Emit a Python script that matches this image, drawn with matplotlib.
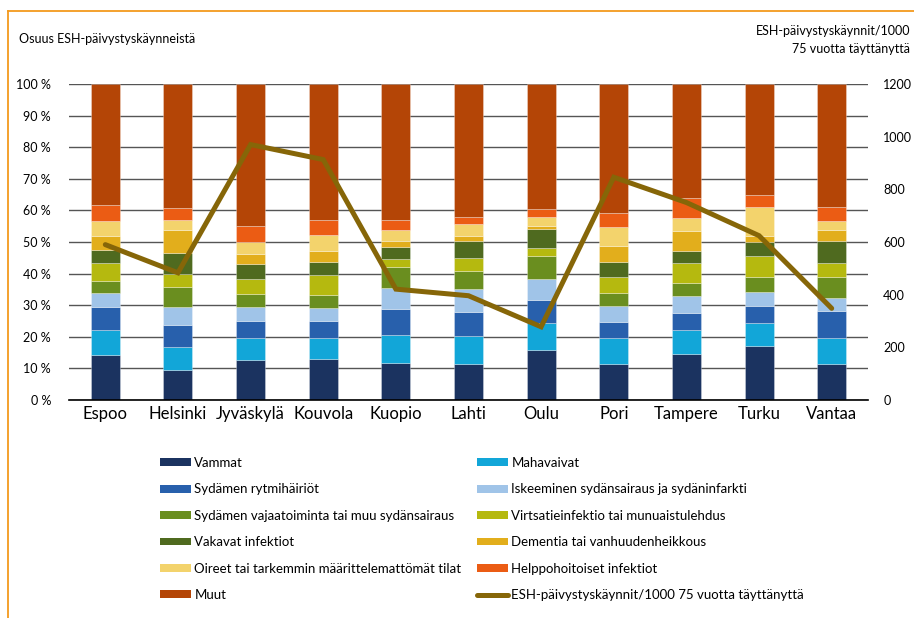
import matplotlib
matplotlib.use("Agg")
import matplotlib.pyplot as plt
import numpy as np
from matplotlib.patches import Patch
from matplotlib.lines import Line2D

plt.rcParams['font.family'] = ['Lato', 'DejaVu Sans']

cities = ["Espoo", "Helsinki", "Jyväskylä", "Kouvola", "Kuopio", "Lahti",
          "Oulu", "Pori", "Tampere", "Turku", "Vantaa"]

categories = ["Vammat", "Mahavaivat", "Sydämen rytmihäiriöt",
              "Iskeeminen sydänsairaus ja sydäninfarkti",
              "Sydämen vajaatoiminta tai muu sydänsairaus",
              "Virtsatieinfektio tai munuaistulehdus",
              "Vakavat infektiot", "Dementia tai vanhuudenheikkous",
              "Oireet tai tarkemmin määrittelemattömät tilat",
              "Helppohoitoiset infektiot", "Muut"]

# cumulative tops (%) of each segment
vammat    = [14.3,  9.4, 12.6, 13.1, 11.8, 11.5, 15.7, 11.5, 14.6, 17.2, 11.3]
mahavaiv  = [22.0, 16.9, 19.7, 19.6, 20.5, 20.3, 24.4, 19.7, 22.0, 24.4, 19.6]
rytmi     = [29.3, 23.8, 24.9, 24.9, 28.9, 27.8, 31.7, 24.8, 27.6, 29.6, 28.1]
iskeem    = [33.9, 29.4, 29.4, 29.2, 35.3, 35.0, 38.3, 29.8, 33.0, 34.3, 32.2]
vajaa     = [37.8, 35.9, 33.6, 33.1, 42.2, 40.9, 45.7, 34.0, 37.1, 39.0, 38.8]
virtsa    = [43.3, 40.0, 38.3, 39.7, 44.6, 44.9, 48.1, 39.0, 43.4, 45.5, 43.3]
vakavat   = [47.4, 46.6, 43.1, 43.8, 48.3, 50.3, 54.2, 43.7, 47.0, 49.9, 50.3]
dementia  = [52.0, 53.8, 46.3, 47.0, 50.3, 51.9, 55.2, 48.8, 53.6, 52.0, 53.8]
oireet    = [56.5, 57.0, 50.1, 52.1, 53.9, 55.6, 58.0, 54.7, 57.7, 61.0, 56.5]
helppo    = [61.7, 60.8, 55.2, 57.1, 57.1, 57.9, 60.4, 59.3, 63.9, 65.0, 61.1]
muut      = [100.0] * 11

rate = [590, 483, 970, 913, 421, 396, 278, 846, 750, 624, 348]

colors = ["#1B3360", "#12A6D8", "#2860AC", "#A0C4E8", "#6A8E1F", "#B5B90F",
          "#4F6A1F", "#E2AE1C", "#F3D36C", "#EB5C14", "#B44506"]
line_color = "#866608"

tops = np.array([vammat, mahavaiv, rytmi, iskeem, vajaa, virtsa, vakavat,
                 dementia, oireet, helppo, muut])
bottoms = np.vstack([np.zeros(len(cities)), tops[:-1]])
heights = tops - bottoms

fig = plt.figure(figsize=(9.14, 6.18), dpi=100)
ax = fig.add_axes([69/914, 1 - 400/618, (868-69)/914, (400-84)/618])
x = np.arange(len(cities))

for i in range(len(categories)):
    ax.bar(x, heights[i], bottom=bottoms[i], width=0.40, color=colors[i],
           edgecolor=(1, 1, 1, 0.35), linewidth=0.6, zorder=3)

ax.set_xlim(-0.5, len(cities) - 0.5)
ax.set_ylim(0, 100)
ax.set_yticks(np.arange(0, 101, 10))
ax.set_yticklabels([f"{v} %" for v in range(0, 101, 10)])
ax.set_xticks(x)
ax.set_xticklabels(cities, fontsize=12)
ax.tick_params(axis='y', length=0, pad=13, labelsize=9)
ax.tick_params(axis='x', length=0, pad=4)
ax.grid(axis='y', color='#555555', linewidth=1.0, zorder=0)
for s in ['left', 'right', 'top']:
    ax.spines[s].set_visible(False)
ax.spines['bottom'].set_color('black')
ax.spines['bottom'].set_linewidth(1.2)
ax.spines['bottom'].set_zorder(5)

ax2 = ax.twinx()
ax2.plot(x, rate, color=line_color, linewidth=3.6, solid_capstyle='round',
         solid_joinstyle='miter', zorder=4)
ax2.set_ylim(0, 1200)
ax2.set_yticks(np.arange(0, 1201, 200))
ax2.tick_params(axis='y', length=0, pad=11, labelsize=9)
for s in ['left', 'right', 'top', 'bottom']:
    ax2.spines[s].set_visible(False)

fig.text(19/914, 1 - 39/618, "Osuus ESH-päivystyskäynneistä", fontsize=9,
         ha='left', va='center')
fig.text(910/914, 1 - 31/618, "ESH-päivystyskäynnit/1000", fontsize=9,
         ha='right', va='center')
fig.text(910/914, 1 - 49/618, "75 vuotta täyttänyttä", fontsize=9,
         ha='right', va='center')

# legend: two columns, row-major order
patches = [Patch(facecolor=colors[i], edgecolor='none', label=categories[i])
           for i in range(len(categories))]
line_handle = Line2D([0], [0], color=line_color, linewidth=3.6,
                     solid_capstyle='round',
                     label="ESH-päivystyskäynnit/1000 75 vuotta täyttänyttä")
col1 = [patches[i] for i in (0, 2, 4, 6, 8, 10)]
col2 = [patches[i] for i in (1, 3, 5, 7, 9)] + [line_handle]

common = dict(frameon=False, fontsize=9.5, handlelength=2.35,
              handleheight=0.55, handletextpad=0.25, labelspacing=1.09,
              borderaxespad=0, borderpad=0)
leg1 = fig.legend(handles=col1, loc='upper left',
                  bbox_to_anchor=(160/914, 1 - 457/618), **common)
leg2 = fig.legend(handles=col2, loc='upper left',
                  bbox_to_anchor=(477/914, 1 - 457/618), **common)

# orange frame (left and top edges)
fig.add_artist(Line2D([8/914, 8/914], [0, 1 - 10.5/618], color='#F39A1E',
                      linewidth=1.3, transform=fig.transFigure))
fig.add_artist(Line2D([8/914, 1], [1 - 10.5/618, 1 - 10.5/618],
                      color='#F39A1E', linewidth=1.3,
                      transform=fig.transFigure))

fig.savefig("out.png", dpi=100)
